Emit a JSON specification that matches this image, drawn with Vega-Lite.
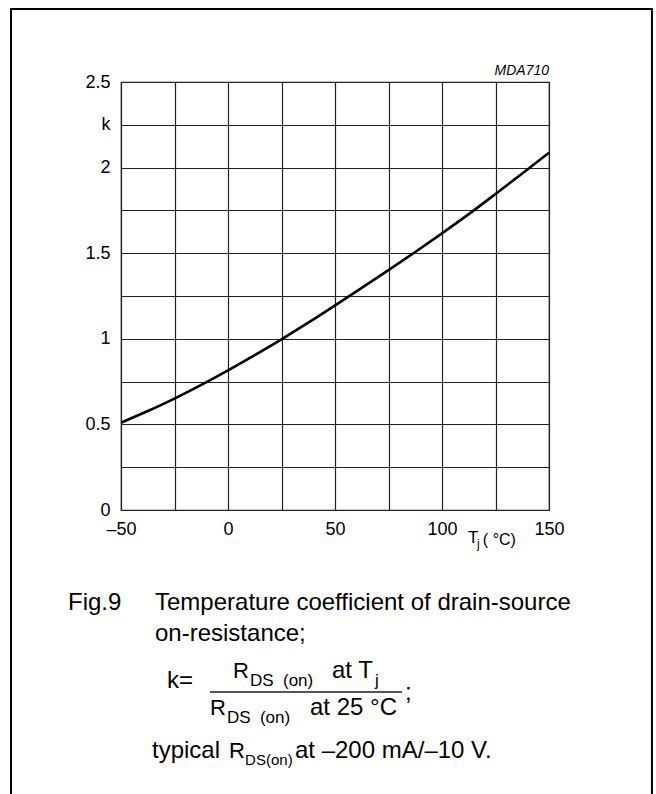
{
  "$schema": "https://vega.github.io/schema/vega-lite/v6.json",
  "width": 428,
  "height": 428,
  "autosize": {"type": "none"},
  "padding": {"left": 121, "top": 82, "right": 107, "bottom": 284},
  "background": "white",
  "config": {
    "font": "Liberation Sans",
    "view": {"stroke": "#222", "strokeWidth": 1.2},
    "axis": {
      "grid": true, "gridColor": "#222", "gridOpacity": 1, "gridWidth": 1.2,
      "ticks": false, "domain": false, "title": null,
      "labelFont": "Liberation Sans", "labelFontSize": 18, "labelColor": "black",
      "labelFlush": false, "labelOverlap": false
    }
  },
  "datasets": {
    "curve": [
      {"tj": -50, "k": 0.51},
      {"tj": -37.5, "k": 0.578},
      {"tj": -25, "k": 0.651},
      {"tj": -12.5, "k": 0.731},
      {"tj": 0, "k": 0.816},
      {"tj": 12.5, "k": 0.905},
      {"tj": 25, "k": 0.997},
      {"tj": 37.5, "k": 1.094},
      {"tj": 50, "k": 1.195},
      {"tj": 62.5, "k": 1.297},
      {"tj": 75, "k": 1.401},
      {"tj": 87.5, "k": 1.507},
      {"tj": 100, "k": 1.616},
      {"tj": 112.5, "k": 1.728},
      {"tj": 125, "k": 1.846},
      {"tj": 137.5, "k": 1.966},
      {"tj": 150, "k": 2.087}
    ]
  },
  "layer": [
    {
      "data": {"name": "curve"},
      "mark": {"type": "line", "color": "black", "strokeWidth": 2.6, "interpolate": "monotone"},
      "encoding": {
        "x": {"field": "tj", "type": "quantitative",
              "scale": {"domain": [-50, 150], "nice": false, "zero": false},
              "axis": {"values": [-50, -25, 0, 25, 50, 75, 100, 125, 150], "labelPadding": 10,
                       "labelExpr": "datum.value % 50 == 0 ? (datum.value < 0 ? '–' + abs(datum.value) : '' + datum.value) : ''"}},
        "y": {"field": "k", "type": "quantitative",
              "scale": {"domain": [0, 2.5], "nice": false, "zero": false},
              "axis": {"values": [0, 0.25, 0.5, 0.75, 1, 1.25, 1.5, 1.75, 2, 2.25, 2.5], "labelPadding": 11,
                       "labelExpr": "datum.value == 2.25 ? 'k\u00a0' : (datum.value * 2 == round(datum.value * 2) ? '' + datum.value : '')"}}
      }
    },
    {
      "data": {"values": [{}]},
      "mark": {"type": "rect", "fill": null, "fillOpacity": 0, "stroke": "black", "strokeWidth": 2},
      "encoding": {
        "x": {"datum": -101.4, "type": "quantitative"}, "x2": {"datum": 198.1},
        "y": {"datum": 2.926, "type": "quantitative"}, "y2": {"datum": -1.7}
      }
    },
    {
      "data": {"values": [{}]},
      "mark": {"type": "text", "text": "MDA710", "align": "right", "baseline": "alphabetic", "fontSize": 14, "fontStyle": "italic"},
      "encoding": {"x": {"datum": 150, "type": "quantitative"}, "y": {"datum": 2.54, "type": "quantitative"}}
    },
    {
      "data": {"values": [{}]},
      "mark": {"type": "text", "text": "T", "align": "left", "baseline": "alphabetic", "fontSize": 17},
      "encoding": {"x": {"datum": 112.15, "type": "quantitative"}, "y": {"datum": -0.193, "type": "quantitative"}}
    },
    {
      "data": {"values": [{}]},
      "mark": {"type": "text", "text": "j", "align": "left", "baseline": "alphabetic", "fontSize": 12},
      "encoding": {"x": {"datum": 116.4, "type": "quantitative"}, "y": {"datum": -0.222, "type": "quantitative"}}
    },
    {
      "data": {"values": [{}]},
      "mark": {"type": "text", "text": "( °C)", "align": "left", "baseline": "alphabetic", "fontSize": 16},
      "encoding": {"x": {"datum": 119.1, "type": "quantitative"}, "y": {"datum": -0.204, "type": "quantitative"}}
    },
    {
      "data": {"values": [{}]},
      "mark": {"type": "text", "text": "Fig.9", "align": "left", "baseline": "alphabetic", "fontSize": 24},
      "encoding": {"x": {"datum": -74.77, "type": "quantitative"}, "y": {"datum": -0.584, "type": "quantitative"}}
    },
    {
      "data": {"values": [{}]},
      "mark": {"type": "text", "text": "Temperature coefficient of drain-source", "align": "left", "baseline": "alphabetic", "fontSize": 24},
      "encoding": {"x": {"datum": -34.11, "type": "quantitative"}, "y": {"datum": -0.584, "type": "quantitative"}}
    },
    {
      "data": {"values": [{}]},
      "mark": {"type": "text", "text": "on-resistance;", "align": "left", "baseline": "alphabetic", "fontSize": 24},
      "encoding": {"x": {"datum": -34.11, "type": "quantitative"}, "y": {"datum": -0.765, "type": "quantitative"}}
    },
    {
      "data": {"values": [{}]},
      "mark": {"type": "text", "text": "k=", "align": "left", "baseline": "alphabetic", "fontSize": 24},
      "encoding": {"x": {"datum": -28.5, "type": "quantitative"}, "y": {"datum": -1.04, "type": "quantitative"}}
    },
    {
      "data": {"values": [{}]},
      "mark": {"type": "text", "text": "R", "align": "left", "baseline": "alphabetic", "fontSize": 22},
      "encoding": {"x": {"datum": 2.34, "type": "quantitative"}, "y": {"datum": -0.981, "type": "quantitative"}}
    },
    {
      "data": {"values": [{}]},
      "mark": {"type": "text", "text": "DS", "align": "left", "baseline": "alphabetic", "fontSize": 17},
      "encoding": {"x": {"datum": 10.3, "type": "quantitative"}, "y": {"datum": -1.028, "type": "quantitative"}}
    },
    {
      "data": {"values": [{}]},
      "mark": {"type": "text", "text": "(on)", "align": "left", "baseline": "alphabetic", "fontSize": 17},
      "encoding": {"x": {"datum": 25.7, "type": "quantitative"}, "y": {"datum": -1.028, "type": "quantitative"}}
    },
    {
      "data": {"values": [{}]},
      "mark": {"type": "text", "text": "at T", "align": "left", "baseline": "alphabetic", "fontSize": 24},
      "encoding": {"x": {"datum": 48.6, "type": "quantitative"}, "y": {"datum": -0.981, "type": "quantitative"}}
    },
    {
      "data": {"values": [{}]},
      "mark": {"type": "text", "text": "j", "align": "left", "baseline": "alphabetic", "fontSize": 17},
      "encoding": {"x": {"datum": 68.69, "type": "quantitative"}, "y": {"datum": -1.028, "type": "quantitative"}}
    },
    {
      "data": {"values": [{}]},
      "mark": {"type": "rule", "color": "#555", "strokeWidth": 2},
      "encoding": {
        "x": {"datum": -8.41, "type": "quantitative"}, "x2": {"datum": 81.31},
        "y": {"datum": -1.063, "type": "quantitative"}
      }
    },
    {
      "data": {"values": [{}]},
      "mark": {"type": "text", "text": "R", "align": "left", "baseline": "alphabetic", "fontSize": 22},
      "encoding": {"x": {"datum": -8.41, "type": "quantitative"}, "y": {"datum": -1.197, "type": "quantitative"}}
    },
    {
      "data": {"values": [{}]},
      "mark": {"type": "text", "text": "DS", "align": "left", "baseline": "alphabetic", "fontSize": 17},
      "encoding": {"x": {"datum": -0.5, "type": "quantitative"}, "y": {"datum": -1.244, "type": "quantitative"}}
    },
    {
      "data": {"values": [{}]},
      "mark": {"type": "text", "text": "(on)", "align": "left", "baseline": "alphabetic", "fontSize": 17},
      "encoding": {"x": {"datum": 14.9, "type": "quantitative"}, "y": {"datum": -1.244, "type": "quantitative"}}
    },
    {
      "data": {"values": [{}]},
      "mark": {"type": "text", "text": "at 25 °C", "align": "left", "baseline": "alphabetic", "fontSize": 24},
      "encoding": {"x": {"datum": 38.32, "type": "quantitative"}, "y": {"datum": -1.197, "type": "quantitative"}}
    },
    {
      "data": {"values": [{}]},
      "mark": {"type": "text", "text": ";", "align": "left", "baseline": "alphabetic", "fontSize": 24},
      "encoding": {"x": {"datum": 82.71, "type": "quantitative"}, "y": {"datum": -1.11, "type": "quantitative"}}
    },
    {
      "data": {"values": [{}]},
      "mark": {"type": "text", "text": "typical", "align": "left", "baseline": "alphabetic", "fontSize": 24},
      "encoding": {"x": {"datum": -35.51, "type": "quantitative"}, "y": {"datum": -1.449, "type": "quantitative"}}
    },
    {
      "data": {"values": [{}]},
      "mark": {"type": "text", "text": "R", "align": "left", "baseline": "alphabetic", "fontSize": 22},
      "encoding": {"x": {"datum": 0.5, "type": "quantitative"}, "y": {"datum": -1.449, "type": "quantitative"}}
    },
    {
      "data": {"values": [{}]},
      "mark": {"type": "text", "text": "DS(on)", "align": "left", "baseline": "alphabetic", "fontSize": 15},
      "encoding": {"x": {"datum": 8.0, "type": "quantitative"}, "y": {"datum": -1.489, "type": "quantitative"}}
    },
    {
      "data": {"values": [{}]},
      "mark": {"type": "text", "text": "at –200 mA/–10 V.", "align": "left", "baseline": "alphabetic", "fontSize": 24},
      "encoding": {"x": {"datum": 31.3, "type": "quantitative"}, "y": {"datum": -1.449, "type": "quantitative"}}
    }
  ]
}
